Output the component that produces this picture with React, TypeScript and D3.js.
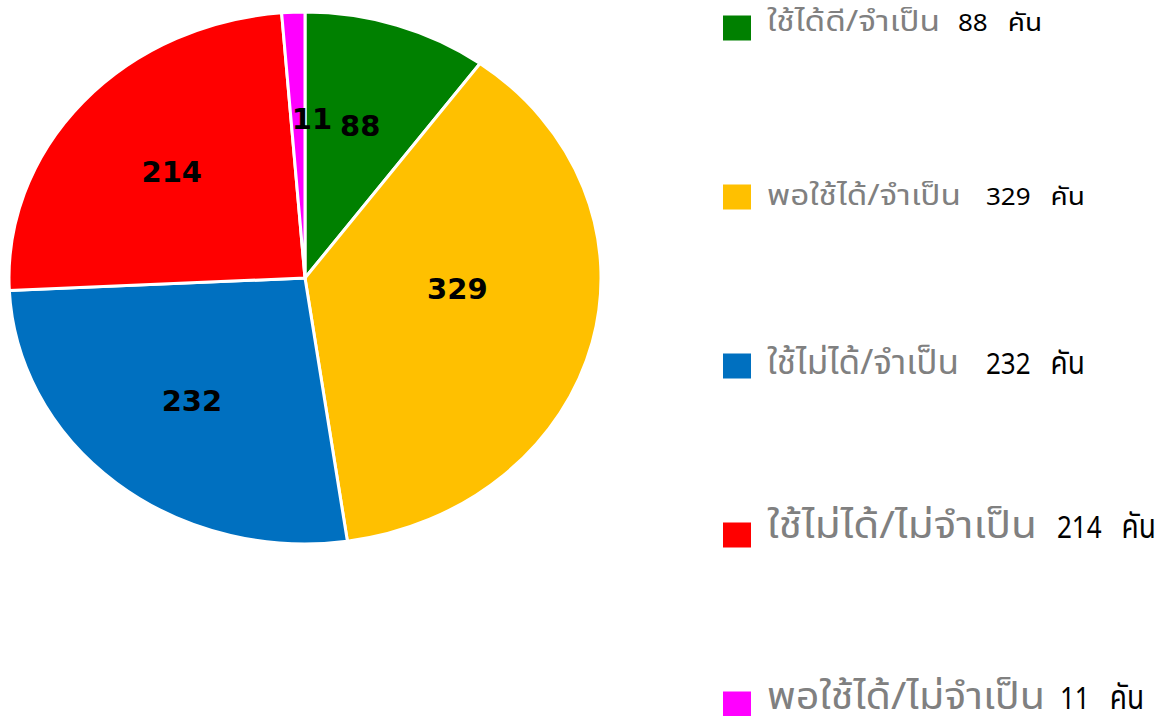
import React from "react";
import * as d3 from "d3";

const categories = [
  "ใช้ได้ดี/จำเป็น",
  "พอใช้ได้/จำเป็น",
  "ใช้ไม่ได้/จำเป็น",
  "ใช้ไม่ได้/ไม่จำเป็น",
  "พอใช้ได้/ไม่จำเป็น",
];
const values = [88, 329, 232, 214, 11];
const unit = "คัน";
const colors = ["#008000", "#FFC000", "#0070C0", "#FF0000", "#FF00FF"];

const W = 1176;
const H = 716;
const cx = 305;
const cy = 278;
const rx = 296;
const ry = 266;

// legend typography / layout tuning per row
const rowScaleY = [0.92, 0.92, 1.12, 1.22, 1.22];
const rowBaseDy = [3, 8, 8, 3, 5];
const labelW = [173, 194, 192, 270, 278];
const numGap = [18, 25, 27, 20, 15];

export default function App() {
  const pie = d3
    .pie<number>()
    .sort(null)
    .value((d) => d)
    .startAngle(0)
    .endAngle(2 * Math.PI);
  const arcs = pie(values);
  const arcGen = d3.arc<d3.PieArcDatum<number>>().innerRadius(0).outerRadius(ry);
  const labelArc = d3
    .arc<d3.PieArcDatum<number>>()
    .innerRadius(ry * 0.6)
    .outerRadius(ry * 0.6);
  const sx = rx / ry;

  const legendY = d3
    .scaleLinear()
    .domain([0, categories.length - 1])
    .range([28, 704]);

  const labelX = 767;

  return (
    <svg
      width={W}
      height={H}
      style={{ position: "absolute", left: 0, top: 0, background: "#fff" }}
    >
      <g transform={`translate(${cx},${cy}) scale(${sx},1)`}>
        {arcs.map((a, i) => (
          <path
            key={i}
            d={arcGen(a) || ""}
            fill={colors[i]}
            stroke="#fff"
            strokeWidth={3}
            vectorEffect="non-scaling-stroke"
          />
        ))}
      </g>
      <g transform={`translate(${cx},${cy})`}>
        {arcs.map((a, i) => {
          const [lx, ly] = labelArc.centroid(a);
          return (
            <text
              key={i}
              x={lx * sx + (i === 4 ? 14 : i === 1 ? -20 : 0)}
              y={ly + (i === 1 ? -28 : 0)}
              textAnchor="middle"
              dominantBaseline="central"
              fontFamily="'DejaVu Sans', Verdana, sans-serif"
              fontWeight="bold"
              fontSize={29}
              fill="#000"
            >
              {values[i]}
            </text>
          );
        })}
      </g>
      <g>
        {categories.map((c, i) => {
          const y = legendY(i);
          const numX = labelX + labelW[i] + numGap[i];
          return (
            <g key={i}>
              <rect x={723} y={y - 12.5} width={28} height={25} fill={colors[i]} />
              <g transform={`translate(0,${y + rowBaseDy[i]}) scale(1,${rowScaleY[i]})`}>
                <text
                  x={labelX}
                  y={0}
                  fontFamily="'Noto Sans', 'Noto Sans Thai', Tahoma, sans-serif"
                  fontSize={31}
                  fill="#808080"
                  textLength={labelW[i]}
                  lengthAdjust="spacingAndGlyphs"
                >
                  {c}
                </text>
                <text
                  x={numX}
                  y={0}
                  fontFamily="'Noto Sans', 'Noto Sans Thai', Tahoma, sans-serif"
                  fontSize={26}
                  fill="#000"
                >
                  {values[i]}
                  <tspan dx={20} fontSize={28}>
                    {unit}
                  </tspan>
                </text>
              </g>
            </g>
          );
        })}
      </g>
    </svg>
  );
}
